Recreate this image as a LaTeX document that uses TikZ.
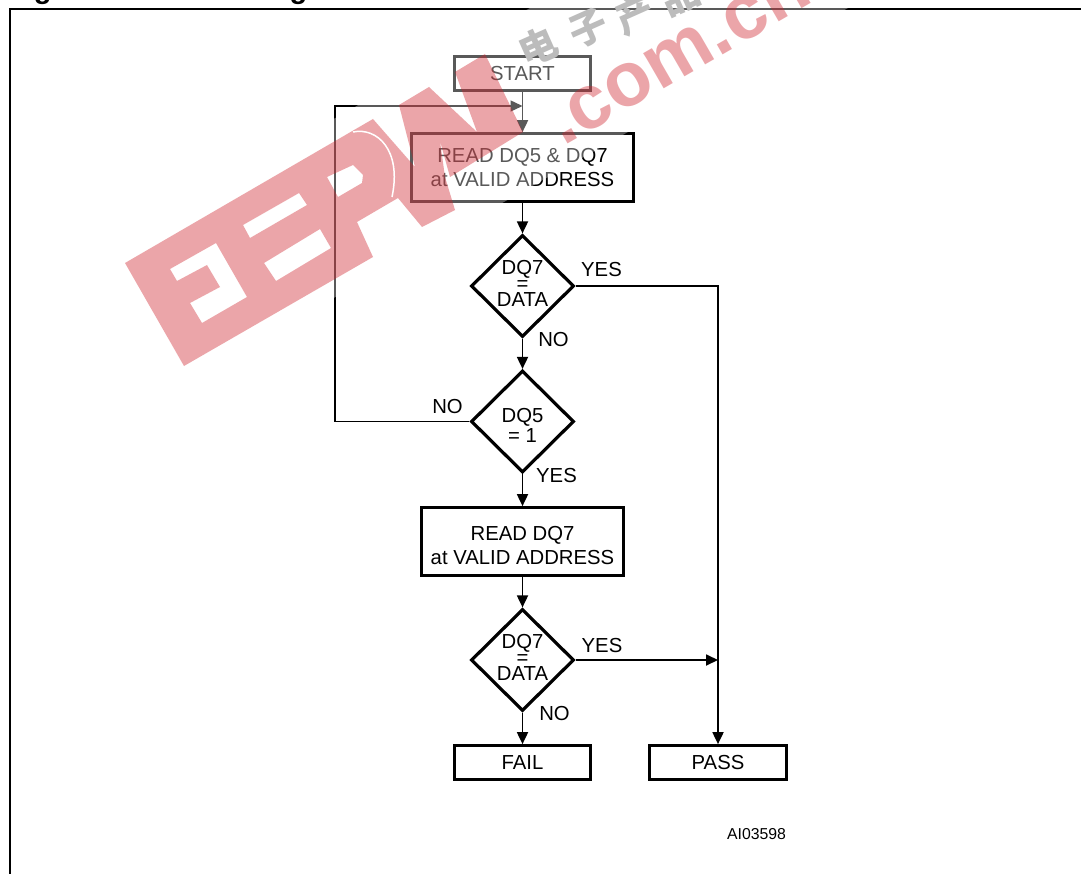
\documentclass[tikz,border=0pt]{standalone}
\usepackage{fontspec}
\usepackage{xcolor}
\setmainfont{Liberation Sans}
\newfontfamily\cjkfont{Noto Sans CJK SC}
\usetikzlibrary{shapes.geometric,arrows.meta}
\definecolor{markred}{RGB}{207,32,42}
\definecolor{markgray}{RGB}{188,188,188}
\tikzset{
  stepbox/.style={draw,line width=3.2pt,inner sep=0pt,align=center,font=\fontsize{20.3}{24}\selectfont},
  decision/.style={draw,diamond,line width=3.2pt,inner sep=0pt,minimum width=103pt,minimum height=102pt,align=center},
  flowline/.style={line width=1.8pt,-{Triangle[length=12pt,width=11pt]}},
  loopline/.style={line width=1.4pt,-{Triangle[length=12pt,width=11pt]}},
  tag/.style={anchor=base,inner sep=0pt,font=\fontsize{20.3}{24}\selectfont},
  markchar/.style={markgray,rotate=24,font=\cjkfont\bfseries\fontsize{38}{38}\selectfont}
}
\begin{document}
\begin{tikzpicture}[x=1pt,y=-1pt]
\useasboundingbox (0,0) rectangle (1081,874);
\fill[white] (0,0) rectangle (1081,874);

% Draw frame and cut title
\draw[line width=2.6pt] (10,874) -- (10,9) -- (1081,9);
\node[anchor=base west,inner sep=0pt,font=\fontsize{29}{29}\selectfont\bfseries] (title) at (8,-1) {Figure 9. Data Polling Flowchart};

% Draw boxes
\node[stepbox,minimum width=135.5pt,minimum height=33.5pt] (start) at (522.5,73.5) {START};
\node[stepbox,minimum width=221.5pt,minimum height=67.5pt] (read1) at (522.5,167.5) {READ DQ5 \& DQ7\\at VALID ADDRESS};
\node[stepbox,minimum width=202.5pt,minimum height=67.5pt] (read2) at (522.5,541.5) {\rule{0pt}{22pt}READ DQ7\\at VALID ADDRESS};
\node[stepbox,minimum width=135.5pt,minimum height=33.5pt] (fail) at (522.5,762.5) {FAIL};
\node[stepbox,minimum width=136.5pt,minimum height=33.5pt] (pass) at (718,762.5) {PASS};

% Draw decisions
\node[decision,font=\fontsize{20.3}{16}\selectfont] (data1) at (522.5,286) {DQ7\\=\\DATA\rule[-4.5pt]{0pt}{4.5pt}};
\node[decision,font=\fontsize{20.3}{20}\selectfont] (dq5) at (522.5,421.5) {\rule{0pt}{21pt}DQ5\\= 1};
\node[decision,font=\fontsize{20.3}{16}\selectfont] (data2) at (522.5,660) {DQ7\\=\\DATA\rule[-4.5pt]{0pt}{4.5pt}};

% Draw connectors
\coordinate (loopa) at (335,421.5);
\coordinate (loopb) at (335,106);
\coordinate (loopc) at (522.5,106);
\coordinate (joinpass) at (718,660);
\draw[flowline] (start) -- (read1);
\draw[loopline] (dq5.west) -- (loopa) -- (loopb) -- (loopc);
\draw[flowline] (read1) -- (data1.north);
\draw[flowline] (data1.south) -- (dq5.north);
\draw[flowline] (dq5.south) -- (read2);
\draw[flowline] (read2) -- (data2.north);
\draw[flowline] (data2.south) -- (fail);
\draw[flowline] (data1.east) -| (pass);
\draw[flowline] (data2.east) -- (joinpass);

% Label
\node[tag] (yes1) at (601.5,277) {YES};
\node[tag] (no1) at (553.5,346) {NO};
\node[tag] (no2) at (447.5,413) {NO};
\node[tag] (yes2) at (556.5,482) {YES};
\node[tag] (yes3) at (602,652) {YES};
\node[tag] (no3) at (554.5,720) {NO};
\node[anchor=base,inner sep=0pt,font=\fontsize{15.8}{18}\selectfont] (code) at (756.5,839) {AI03598};

% Draw haze of the stamp
\fill[white,opacity=.35] (100,251) -- (530,8) -- (848,8) -- (190,379) -- cycle;

% Draw gray characters
\node[markchar] (markd) at (538,47) {电};
\node[markchar] (marke) at (588,28) {子};
\node[markchar] (markf) at (635,15) {产};
\node[markchar] (markg) at (680,-4) {品};

% Draw red stamp
\fill[markred,opacity=.4,even odd rule]
  (125,263) -- (373,119) -- (415,167) -- (399,105) -- (429,87) -- (477,132) -- (455,72) -- (485,54)
  -- (523,132) -- (450,177) -- (440,141) -- (445,177) -- (455,210) -- (422,227) -- (398,198)
  -- (357,222) -- (373,257) -- (184,366) -- cycle
  (243,225) -- (299,193) -- (307,205) -- (250,238) -- cycle
  (264,263) -- (320,229) -- (331,248) -- (276,281) -- cycle
  (170,269) -- (216,243) -- (247,297) -- (202,323) -- (190,303) -- (220,287) -- (207,265) -- (177,281) -- cycle
  (327,177) -- (353,165) -- (363,175) -- (362,183) -- (338,197) -- cycle;
\draw[white,line width=1.5pt] (353,132) .. controls (377,127) and (402,150) .. (392,197);
\node[markred,opacity=.4,rotate=30,anchor=base west,inner sep=0pt,font=\fontsize{77}{77}\selectfont\bfseries] (markcom) at (563,147) {.com.cn};
\end{tikzpicture}
\end{document}
